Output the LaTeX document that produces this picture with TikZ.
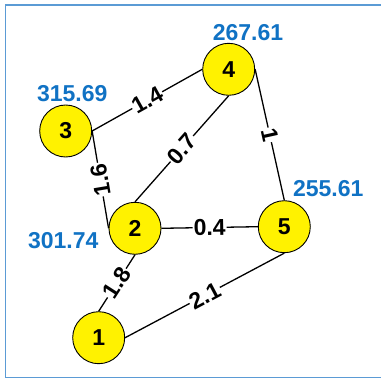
\documentclass[tikz,border=0pt]{standalone}
\usepackage{fontspec}
\setmainfont{Liberation Sans}
\definecolor{frameblue}{RGB}{91,155,213}
\definecolor{valblue}{RGB}{16,114,196}
\begin{document}
\begin{tikzpicture}[x=1pt,y=-1pt,
  vertex/.style={circle,draw=black,line width=0.9pt,fill=yellow,minimum size=52pt,inner sep=0pt,
    font=\fontsize{23}{23}\selectfont\bfseries},
  edge/.style={line width=1.3pt,black},
  wlabel/.style={midway,sloped,allow upside down,fill=white,inner sep=1pt,
    font=\fontsize{23}{23}\selectfont\bfseries},
  value/.style={text=valblue,inner sep=0pt,font=\fontsize{23}{23}\selectfont\bfseries}]
\useasboundingbox (0,0) rectangle (381,380);
% outer frame
\draw[frameblue,line width=1.8pt] (5.5,5) rectangle (384,377.5);

% vertices
\node[vertex] (n1) at (98.7,337.7) {1};
\node[vertex] (n2) at (135,228.3) {2};
\node[vertex] (n3) at (65.7,131) {3};
\node[vertex] (n4) at (228.7,69.3) {4};
\node[vertex] (n5) at (284.3,226.7) {5};

% weighted edges
\draw[edge] (n1.north) -- node[wlabel] {1.8} (n2.south);
\draw[edge] (n1.east) -- node[wlabel] {2.1} (n5.south);
\draw[edge] (n2.west) -- node[wlabel] {1.6} (n3.east);
\draw[edge] (n2.north) -- node[wlabel] {0.7} (n4.south);
\draw[edge] (n2.east) -- node[wlabel] {0.4} (n5.west);
\draw[edge] (n3.east) -- node[wlabel] {1.4} (n4.west);
\draw[edge] (n4.east) -- node[wlabel] {1} (n5.north);

% vertex values
\node[value] (v3) at (72.3,93.3) {315.69};
\node[value] (v4) at (248,32.3) {267.61};
\node[value] (v5) at (328.3,188.3) {255.61};
\node[value] (v2) at (63.3,240.7) {301.74};
\end{tikzpicture}
\end{document}
